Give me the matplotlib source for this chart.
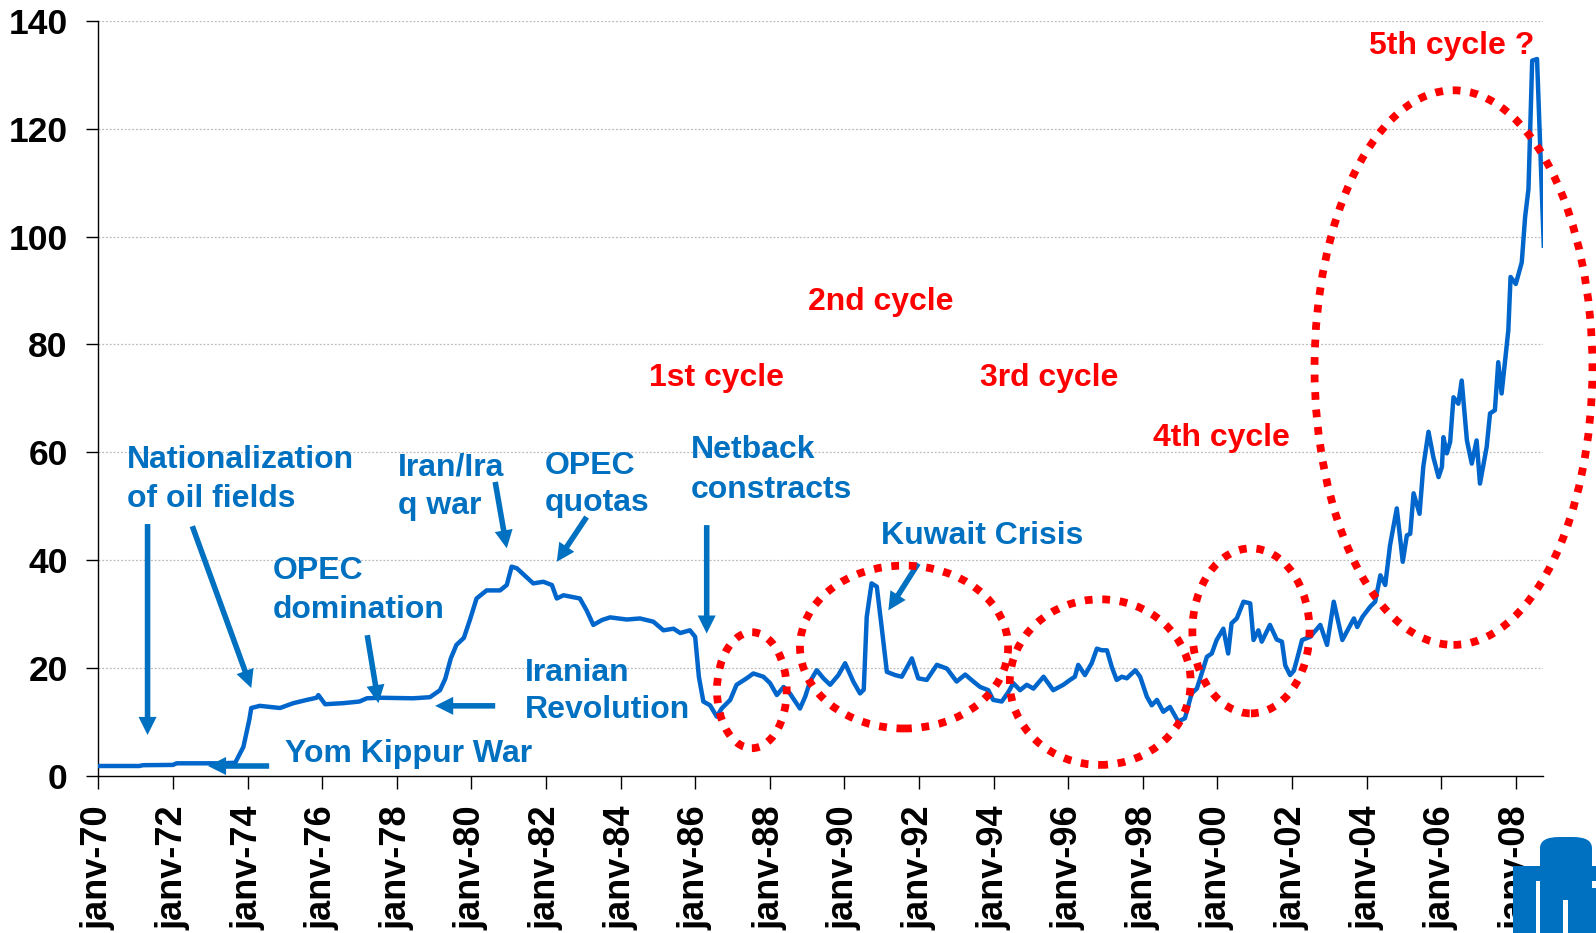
import matplotlib
matplotlib.use("Agg")
import matplotlib.pyplot as plt
from matplotlib.patches import Ellipse, Rectangle, FancyBboxPatch

plt.rcParams["font.family"] = ["Liberation Sans", "DejaVu Sans"]
plt.rcParams["font.weight"] = "bold"

# monthly-ish oil price readings (year fraction, $/bbl)
dates = [1970.0, 1971.1, 1971.2, 1972.0, 1972.1, 1973.3, 1973.67, 1973.89, 1974.05,
         1974.1, 1974.33, 1974.87, 1975.23, 1975.59, 1975.85, 1975.9, 1976.08, 1976.57,
         1977.0, 1977.2, 1977.55, 1978.44, 1978.89, 1979.16, 1979.3, 1979.45, 1979.6,
         1979.8, 1979.96, 1980.14, 1980.41, 1980.77, 1980.95, 1981.08, 1981.22, 1981.66,
         1981.93, 1982.16, 1982.29, 1982.47, 1982.91, 1983.09, 1983.27, 1983.5, 1983.72,
         1984.17, 1984.52, 1984.88, 1985.15, 1985.42, 1985.6, 1985.86, 1986.0, 1986.1,
         1986.22, 1986.4, 1986.58, 1986.71, 1986.94, 1987.11, 1987.38, 1987.56, 1987.83,
         1988.01, 1988.19, 1988.37, 1988.54, 1988.81, 1988.95, 1989.08, 1989.26, 1989.44,
         1989.62, 1989.84, 1990.02, 1990.24, 1990.42, 1990.52, 1990.6, 1990.73, 1990.87,
         1991.0, 1991.14, 1991.36, 1991.54, 1991.81, 1991.98, 1992.21, 1992.48, 1992.75,
         1993.01, 1993.24, 1993.46, 1993.64, 1993.86, 1993.99, 1994.22, 1994.4, 1994.53,
         1994.71, 1994.89, 1995.07, 1995.34, 1995.6, 1995.87, 1996.05, 1996.18, 1996.27,
         1996.45, 1996.63, 1996.77, 1996.9, 1997.04, 1997.17, 1997.3, 1997.44, 1997.57,
         1997.8, 1997.93, 1998.11, 1998.24, 1998.38, 1998.55, 1998.73, 1998.95, 1999.13,
         1999.31, 1999.45, 1999.58, 1999.72, 1999.85, 1999.98, 2000.16, 2000.29, 2000.38,
         2000.52, 2000.7, 2000.88, 2000.97, 2001.1, 2001.19, 2001.41, 2001.59, 2001.73,
         2001.82, 2001.95, 2002.05, 2002.13, 2002.27, 2002.49, 2002.76, 2002.94, 2003.12,
         2003.35, 2003.66, 2003.75, 2003.89, 2004.1, 2004.23, 2004.37, 2004.5, 2004.63,
         2004.81, 2004.97, 2005.08, 2005.17, 2005.26, 2005.42, 2005.52, 2005.66, 2005.79,
         2005.93, 2006.02, 2006.06, 2006.15, 2006.24, 2006.33, 2006.46, 2006.55, 2006.69,
         2006.82, 2006.95, 2007.04, 2007.22, 2007.31, 2007.44, 2007.53, 2007.62, 2007.8,
         2007.86, 2008.0, 2008.16, 2008.25, 2008.34, 2008.44, 2008.57, 2008.75]
prices = [1.85, 1.85, 2.0, 2.05, 2.35, 2.35, 2.45, 5.4, 10.5,
          12.6, 13.0, 12.6, 13.5, 14.1, 14.5, 15.0, 13.3, 13.5,
          13.8, 14.4, 14.5, 14.4, 14.6, 15.9, 18.0, 21.8, 24.3,
          25.6, 28.9, 32.9, 34.4, 34.4, 35.4, 38.8, 38.5, 35.7,
          36.0, 35.4, 32.9, 33.5, 32.9, 30.7, 28.0, 28.9, 29.4,
          29.0, 29.2, 28.6, 27.0, 27.3, 26.5, 27.0, 25.8, 18.4,
          13.8, 13.1, 11.0, 12.5, 14.1, 16.9, 18.1, 19.0, 18.4,
          17.2, 15.0, 16.5, 15.3, 12.5, 14.7, 17.5, 19.6, 18.1,
          16.9, 18.7, 20.9, 17.5, 15.3, 16.0, 29.5, 35.7, 35.1,
          27.6, 19.3, 18.7, 18.4, 21.8, 18.1, 17.8, 20.6, 19.9,
          17.5, 18.8, 17.5, 16.5, 15.9, 14.1, 13.8, 15.6, 17.2,
          15.9, 16.9, 16.2, 18.4, 15.9, 16.9, 17.8, 18.4, 20.6,
          18.7, 20.9, 23.6, 23.3, 23.3, 20.2, 17.8, 18.4, 18.1,
          19.6, 18.4, 14.7, 13.1, 14.1, 11.9, 12.8, 10.1, 10.7,
          15.3, 16.2, 19.0, 22.1, 22.7, 25.2, 27.3, 22.7, 28.3,
          29.2, 32.3, 32.0, 25.2, 27.0, 24.9, 28.0, 25.3, 24.9,
          20.5, 18.7, 19.5, 21.5, 25.2, 25.8, 28.0, 24.3, 32.3,
          25.2, 29.2, 27.6, 29.5, 31.4, 32.3, 37.2, 35.4, 42.8,
          49.6, 39.7, 44.6, 44.9, 52.4, 48.6, 57.3, 63.8, 59.1,
          55.4, 57.3, 62.8, 59.8, 61.9, 70.2, 69.0, 73.3, 62.2,
          57.9, 62.2, 54.2, 61.0, 67.2, 67.8, 76.7, 70.9, 82.6,
          92.5, 91.2, 95.2, 103.6, 108.8, 132.6, 132.9, 98.3]

tick_years = list(range(1970, 2009, 2))
tick_labels = ["janv-%02d" % (y % 100) for y in tick_years]
y_ticks = [0, 20, 40, 60, 80, 100, 120, 140]

LINE = "#0066CC"
BLUE = "#0070C0"
RED = "#FF0000"

fig = plt.figure(figsize=(15.96, 9.33), dpi=100)
ax = fig.add_axes([0.0616, 0.1683, 0.9052, 0.8095])

ax.plot(dates, prices, color=LINE, lw=3.2, zorder=3, solid_joinstyle="round")

ax.set_xlim(1970, 2008.73)
ax.set_ylim(0, 140)
ax.set_yticks(y_ticks)
ax.set_xticks(tick_years)
ax.set_xticklabels(tick_labels, rotation=90)
ax.tick_params(axis="y", direction="out", length=9, width=1, pad=13, labelsize=25.5)
ax.tick_params(axis="x", direction="out", length=9, width=1, pad=12, labelsize=26)
for lbl in ax.get_xticklabels() + ax.get_yticklabels():
    lbl.set_fontweight("bold")
ax.spines["top"].set_visible(False)
ax.spines["right"].set_visible(False)
for s in ("left", "bottom"):
    ax.spines[s].set_linewidth(1)
    ax.spines[s].set_color("black")
for v in y_ticks[1:]:
    ax.axhline(v, color="#BBBBBB", lw=0.9, ls=(0, (1.5, 1.5)), zorder=0)

# blue annotation texts (left-aligned)
blue_text = [
    ("Nationalization", 1970.77, 58.5), ("of oil fields", 1970.77, 51.3),
    ("Iran/Ira", 1978.03, 57.2), ("q war", 1978.03, 50.0),
    ("OPEC", 1981.98, 57.4), ("quotas", 1981.98, 50.6),
    ("Netback", 1985.89, 60.4), ("constracts", 1985.89, 53.1),
    ("OPEC", 1974.68, 38.0), ("domination", 1974.68, 30.7),
    ("Iranian", 1981.44, 19.1), ("Revolution", 1981.44, 12.2),
    ("Yom Kippur War", 1975.0, 4.1),
    ("Kuwait Crisis", 1990.98, 44.4),
]
for s, x, y in blue_text:
    ax.text(x, y, s, color=BLUE, fontsize=23, fontweight="bold",
            ha="left", va="center", zorder=5)

red_text = [
    ("1st cycle", 1986.58, 73.8), ("2nd cycle", 1990.97, 87.8),
    ("3rd cycle", 1995.5, 73.8), ("4th cycle", 2000.11, 62.6),
    ("5th cycle ?", 2006.28, 135.4),
]
for s, x, y in red_text:
    ax.text(x, y, s, color=RED, fontsize=23, fontweight="bold",
            ha="center", va="center", zorder=5, clip_on=False)

arrows = [
    ((1971.32, 46.7), (1971.32, 7.6)),
    ((1972.52, 46.3), (1974.10, 16.3)),
    ((1974.58, 1.85), (1972.94, 1.85)),
    ((1977.21, 26.1), (1977.51, 13.5)),
    ((1980.64, 13.0), (1979.03, 13.0)),
    ((1980.64, 54.5), (1980.95, 42.2)),
    ((1983.09, 48.0), (1982.29, 39.7)),
    ((1986.31, 46.5), (1986.31, 26.4)),
    ((1991.98, 39.4), (1991.18, 30.7)),
]
for tail, head in arrows:
    ax.annotate("", xy=head, xytext=tail, zorder=4,
                arrowprops=dict(arrowstyle="simple,head_length=1.3,head_width=1.3,tail_width=0.4",
                                mutation_scale=10, color=BLUE, lw=0,
                                shrinkA=0, shrinkB=0))

ellipses = [
    (1987.52, 15.9, 1.87, 21.5),
    (1991.60, 23.9, 5.58, 30.2),
    (1996.86, 17.4, 4.85, 30.7),
    (2000.90, 26.9, 3.14, 30.6),
    (2006.33, 75.7, 7.45, 102.8),
]
for cx, cy, w, h in ellipses:
    ax.add_patch(Ellipse((cx, cy), w, h, fill=False, edgecolor=RED, lw=5.6,
                         ls=(0, (1, 1.25)), clip_on=False, zorder=6))

# corner logo (simplified blocks)
W, H = 1596.0, 933.0
def block(x0, y0, x1, y1, rounded=False):
    if rounded:
        p = FancyBboxPatch((x0 / W, 1 - y1 / H), (x1 - x0) / W, (y1 - y0) / H,
                           boxstyle="round,pad=0,rounding_size=0.012",
                           transform=fig.transFigure, color=BLUE, lw=0, zorder=1)
    else:
        p = Rectangle((x0 / W, 1 - y1 / H), (x1 - x0) / W, (y1 - y0) / H,
                      transform=fig.transFigure, color=BLUE, lw=0, zorder=1)
    fig.add_artist(p)
block(1513, 866, 1536, 933)
block(1540, 837, 1592, 900, rounded=True)
block(1540, 880, 1563, 933)
block(1536, 866, 1596, 881)
block(1568, 888, 1596, 933)

fig.savefig("out.png", dpi=100)
